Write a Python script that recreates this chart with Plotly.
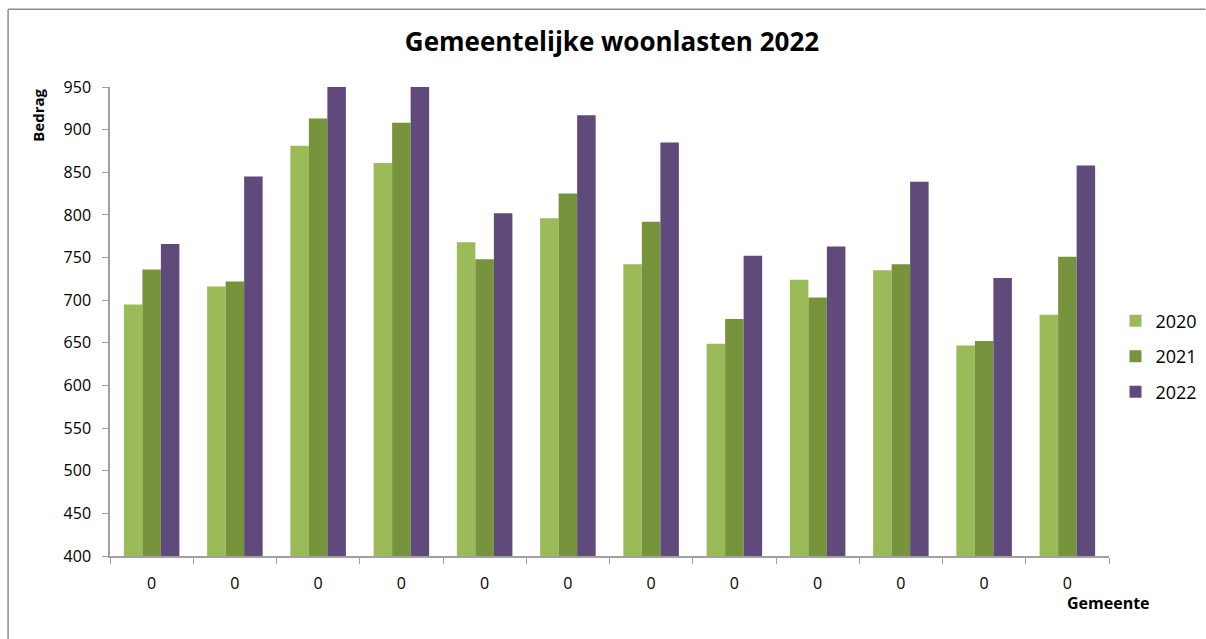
import plotly.graph_objects as go

categories = [f"g{i}" for i in range(1, 13)]
tick_labels = ["0"] * 12
years = ["2020", "2021", "2022"]
v2020 = [695, 716, 881, 861, 768, 796, 742, 649, 724, 735, 647, 683]
v2021 = [736, 722, 913, 908, 748, 825, 792, 678, 703, 742, 652, 751]
v2022 = [766, 845, 950, 950, 802, 917, 885, 752, 763, 839, 726, 858]
colors = ["#9BBB59", "#77933C", "#604A7B"]

W, H = 1206, 639
L, R, T, B = 109.5, 1109.5, 87.3, 555.9

def px(x):
    return (x - L) / (R - L)

def py(y):
    return (B - y) / (B - T)

fig = go.Figure()
for i, (name, vals) in enumerate(zip(years, [v2020, v2021, v2022])):
    fig.add_trace(go.Bar(
        x=categories, y=vals, name=name, marker_color=colors[i],
        marker_line_width=0, legendgroup=name,
    ))

font_fam = "Open Sans, sans-serif"
frame = dict(color="#8C8C8C", width=1.5)
fig.update_layout(
    width=W, height=H, autosize=False,
    margin=dict(l=L, r=W - R, t=T, b=H - B, pad=0, autoexpand=False),
    paper_bgcolor="white", plot_bgcolor="white",
    barmode="group", bargap=0.333, bargroupgap=0,
    font=dict(family=font_fam, size=16, color="#000000"),
    title=dict(text="<b>Gemeentelijke woonlasten 2022</b>", x=px(612), xanchor="center",
               xref="paper", y=1 - 42 / H, yanchor="middle",
               font=dict(family=font_fam, size=26, color="#000000")),
    showlegend=True,
    legend=dict(x=px(1116), xanchor="left", y=py(356.7), yanchor="middle",
                font=dict(family=font_fam, size=18, color="#000000"),
                tracegroupgap=9, bgcolor="rgba(0,0,0,0)", borderwidth=0),
    xaxis=dict(
        tickmode="array", tickvals=categories, ticktext=tick_labels,
        tickson="boundaries", ticks="outside", ticklen=6, tickcolor="#A0A0A0",
        showline=True, linecolor="#A0A0A0", linewidth=1.5, showgrid=False,
        zeroline=False, ticklabelstandoff=12,
        tickfont=dict(family=font_fam, size=16, color="#000000"),
    ),
    yaxis=dict(
        range=[400, 950], tickvals=list(range(400, 951, 50)),
        ticks="outside", ticklen=6, tickcolor="#A0A0A0",
        showline=True, linecolor="#A0A0A0", linewidth=1.5, showgrid=False,
        zeroline=False, ticklabelstandoff=8,
        tickfont=dict(family=font_fam, size=16, color="#000000"),
    ),
    annotations=[
        dict(text="<b>Bedrag</b>", xref="paper", yref="paper", x=px(38), y=py(115.5),
             xanchor="center", yanchor="middle", textangle=-90, showarrow=False,
             font=dict(family=font_fam, size=15, color="#000000")),
        dict(text="<b>Gemeente</b>", xref="paper", yref="paper", x=px(1109), y=py(603),
             xanchor="center", yanchor="middle", showarrow=False,
             font=dict(family=font_fam, size=16, color="#000000")),
    ],
    shapes=[
        dict(type="line", xref="paper", yref="paper", x0=px(7.5), x1=px(1206),
             y0=py(9.5), y1=py(9.5), line=frame, layer="below"),
        dict(type="line", xref="paper", yref="paper", x0=px(7.5), x1=px(7.5),
             y0=py(9.5), y1=py(639), line=frame, layer="below"),
    ],
)

fig.write_html("out.html",
               config={"responsive": False, "displayModeBar": False},
               post_script="document.body.style.margin='0';document.body.style.overflow='hidden';")
